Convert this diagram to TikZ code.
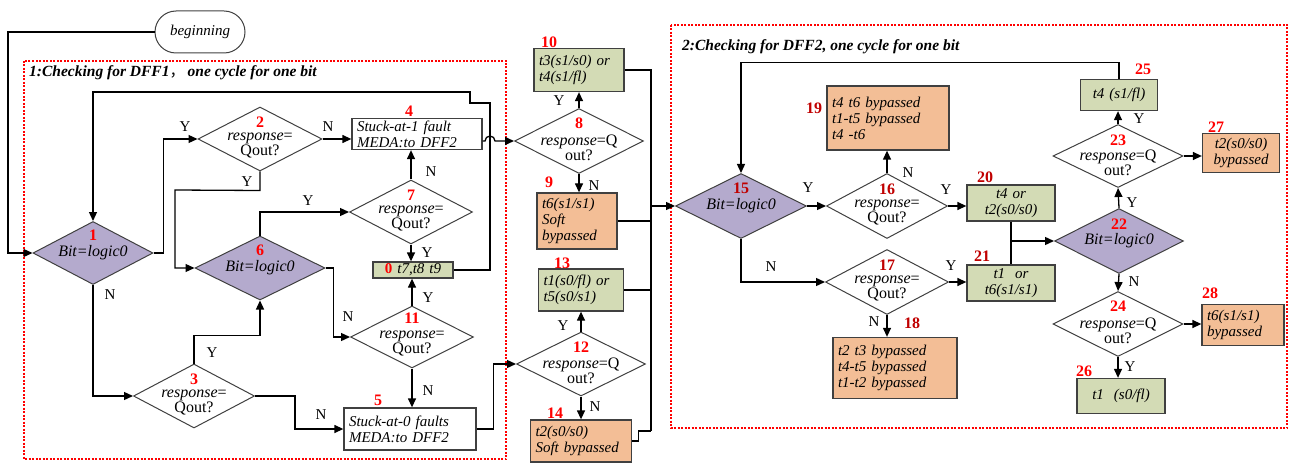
\documentclass[tikz,border=0pt]{standalone}
\usepackage{fontspec}
\setmainfont{Liberation Serif}
\newfontfamily\cjk{Noto Sans CJK SC}
\usetikzlibrary{shapes.geometric,arrows.meta}
\definecolor{lav}{HTML}{B4AACD}
\definecolor{grn}{HTML}{D3DBB5}
\definecolor{org}{HTML}{F3BE96}
\definecolor{numred}{HTML}{FF0000}
\definecolor{numdark}{HTML}{C00000}
\definecolor{edge}{HTML}{404040}
\tikzset{
  conn/.style={line width=1.3pt, black},
  arr/.style={conn, -{Triangle[length=9pt,width=8pt]}},
  dia/.style={diamond, draw=edge, line width=1pt, inner sep=0pt},
  dtxt/.style={font=\fontsize{16}{15}\selectfont, align=center, inner sep=0pt},
  numf/.style={font=\fontsize{16}{16}\selectfont\bfseries, text=numred, inner sep=0pt},
  numd/.style={numf, text=numdark},
  box/.style={rectangle, draw=edge, line width=1.3pt, inner xsep=5pt, inner ysep=0pt,
              font=\fontsize{15}{16}\selectfont\itshape},
  yn/.style={font=\fontsize{15}{15}\selectfont, inner sep=0pt},
  frame/.style={draw=red, line width=1.2pt, dash pattern=on 2pt off 1.5pt},
  term/.style={rectangle, rounded corners=21pt, draw=edge, line width=1pt,
               minimum width=90pt, minimum height=42pt, font=\fontsize{15}{15}\selectfont\itshape},
  ttl/.style={anchor=west, inner sep=0pt, font=\fontsize{15.5}{16}\selectfont\bfseries\itshape}
}
\begin{document}
\begin{tikzpicture}[x=1pt,y=-1pt]
\useasboundingbox (0,0) rectangle (1289,465);
% frames
\draw[frame] (24,61) rectangle (506,459);
\draw[frame] (671,25) rectangle (1287,428);
\node[ttl] (t1) at (29,73) {1:Checking for DFF1{\cjk\mdseries ，}\,one cycle for one bit};
\node[ttl] (t2) at (682,47) {2:Checking for DFF2, one cycle for one bit};
% start
\node[term] (beg) at (200,32) {beginning};
% ---------- diamonds ----------
\node[dia, fill=lav, minimum width=120pt, minimum height=63pt] (d1) at (93,253) {};
\node[numf, yshift=18pt] (d1n) at (d1) {1};
\node[dtxt] (d1t) at (d1) {\textit{Bit=logic0}};

\node[dia, fill=white, minimum width=124pt, minimum height=64pt] (d2) at (260,139) {};
\node[numf, yshift=17pt] (d2n) at (d2) {2};
\node[dtxt, yshift=-7pt] (d2t) at (d2) {\textit{response}=\\Qout?};

\node[dia, fill=white, minimum width=121pt, minimum height=64pt] (d3) at (194,396) {};
\node[numf, yshift=17pt] (d3n) at (d3) {3};
\node[dtxt, yshift=-7pt] (d3t) at (d3) {\textit{response}=\\Qout?};

\node[dia, fill=lav, minimum width=130pt, minimum height=64pt] (d6) at (260,268) {};
\node[numf, yshift=18pt] (d6n) at (d6) {6};
\node[dtxt] (d6t) at (d6) {\textit{Bit=logic0}};

\node[dia, fill=white, minimum width=123pt, minimum height=64pt] (d7) at (411,212) {};
\node[numf, yshift=17pt] (d7n) at (d7) {7};
\node[dtxt, yshift=-7pt] (d7t) at (d7) {\textit{response}=\\Qout?};

\node[dia, fill=white, minimum width=123pt, minimum height=62pt] (d11) at (412,337) {};
\node[numf, yshift=19pt] (d11n) at (d11) {11};
\node[dtxt, yshift=-7pt] (d11t) at (d11) {\textit{response}=\\Qout?};

\node[dia, fill=white, minimum width=129pt, minimum height=65pt] (d8) at (579,141) {};
\node[numf, yshift=18pt] (d8n) at (d8) {8};
\node[dtxt, yshift=-7pt] (d8t) at (d8) {\textit{response}=Q\\out?};

\node[dia, fill=white, minimum width=129pt, minimum height=64pt] (d12) at (581,364) {};
\node[numf, yshift=17pt] (d12n) at (d12) {12};
\node[dtxt, yshift=-7pt] (d12t) at (d12) {\textit{response}=Q\\out?};

\node[dia, fill=lav, minimum width=131pt, minimum height=65pt] (d15) at (741,206) {};
\node[numd, yshift=18pt] (d15n) at (d15) {15};
\node[dtxt] (d15t) at (d15) {\textit{Bit=logic0}};

\node[dia, fill=white, minimum width=121pt, minimum height=65pt] (d16) at (887,206) {};
\node[numd, yshift=17pt] (d16n) at (d16) {16};
\node[dtxt, yshift=-7pt] (d16t) at (d16) {\textit{response}=\\Qout?};

\node[dia, fill=white, minimum width=123pt, minimum height=65pt] (d17) at (887,282) {};
\node[numd, yshift=17pt] (d17n) at (d17) {17};
\node[dtxt, yshift=-7pt] (d17t) at (d17) {\textit{response}=\\Qout?};

\node[dia, fill=lav, minimum width=129pt, minimum height=65pt] (d22) at (1119,241) {};
\node[numf, yshift=17pt] (d22n) at (d22) {22};
\node[dtxt] (d22t) at (d22) {\textit{Bit=logic0}};

\node[dia, fill=white, minimum width=130pt, minimum height=63pt] (d23) at (1118,156) {};
\node[numf, yshift=16pt] (d23n) at (d23) {23};
\node[dtxt, yshift=-7pt] (d23t) at (d23) {\textit{response}=Q\\out?};

\node[dia, fill=white, minimum width=130pt, minimum height=65pt] (d24) at (1118,324) {};
\node[numf, yshift=18pt] (d24n) at (d24) {24};
\node[dtxt, yshift=-7pt] (d24t) at (d24) {\textit{response}=Q\\out?};

% ---------- boxes ----------
\node[box, fill=white, text width=120pt, minimum height=31pt, align=left] (b4) at (417,134) {Stuck-at-1 fault\\MEDA:to DFF2};
\node[numf] (b4n) at (409,111) {4};
\node[box, fill=white, text width=122pt, minimum height=42pt, align=left] (b5) at (410,429) {Stuck-at-0 faults\\MEDA:to DFF2};
\node[numf] (b5n) at (378,400) {5};
\node[box, fill=grn, text width=70pt, minimum height=16pt, align=center] (b0) at (413,270) {{\upshape\bfseries\color{numred}0} t7,t8 t9};
\node[box, fill=grn, text width=80pt, minimum height=43pt, align=left] (b10) at (579,70) {t3(s1/s0) or\\t4(s1/fl)};
\node[numf] (b10n) at (549,42) {10};
\node[box, fill=org, text width=70pt, minimum height=56pt, align=left] (b9) at (577,221) {t6(s1/s1)\\Soft\\bypassed};
\node[numf] (b9n) at (549,182) {9};
\node[box, fill=grn, text width=75pt, minimum height=42pt, align=left] (b13) at (581,290) {t1(s0/fl) or\\t5(s0/s1)};
\node[numf] (b13n) at (562,263) {13};
\node[box, fill=org, text width=91pt, minimum height=42pt, align=left] (b14) at (581,441) {t2(s0/s0)\\Soft bypassed};
\node[numf] (b14n) at (555,413) {14};
\node[box, fill=org, text width=112pt, minimum height=64pt, align=left] (b19) at (888,118) {t4 t6 bypassed\\t1-t5 bypassed\\t4 -t6};
\node[numd] (b19n) at (814,108) {19};
\node[box, fill=org, text width=114pt, minimum height=61pt, align=left] (b18) at (895,368) {t2 t3 bypassed\\t4-t5 bypassed\\t1-t2 bypassed};
\node[numd] (b18n) at (912,323) {18};
\node[box, fill=grn, text width=78pt, minimum height=36pt, align=center] (b20) at (1011,203) {t4 or\\t2(s0/s0)};
\node[numd] (b20n) at (985,177) {20};
\node[box, fill=grn, text width=78pt, minimum height=36pt, align=center] (b21) at (1011,283) {t1\ \ or\\t6(s1/s1)};
\node[numd] (b21n) at (982,256) {21};
\node[box, fill=grn, text width=67pt, minimum height=31pt, align=center] (b25) at (1119,95) {t4 (s1/fl)};
\node[numf] (b25n) at (1143,69) {25};
\node[box, fill=org, text width=67pt, minimum height=39pt, align=center] (b27) at (1241,153) {t2(s0/s0)\\bypassed};
\node[numf] (b27n) at (1216,127) {27};
\node[box, fill=org, text width=72pt, minimum height=41pt, align=left] (b28) at (1243,325) {t6(s1/s1)\\bypassed};
\node[numf] (b28n) at (1210,293) {28};
\node[box, fill=grn, text width=78pt, minimum height=35pt, align=center] (b26) at (1121,396) {t1\ \ (s0/fl)};
\node[numf] (b26n) at (1084,371) {26};

% ---------- connectors: DFF1 ----------
\coordinate (c0) at (8,32);
\draw[arr] (beg.west) -- (c0) |- (d1.west);
\draw[arr] (d1.east) -- ++(10,0) |- (d2.west);
\node[yn] (y1) at (185,127) {Y};
\draw[arr] (d2.east) -- (d2.east -| b4.west);
\node[yn] (n2) at (328,127) {N};
\draw[arr] (d2.south) -- ++(0,19) -- (175,190) |- (d6.west);
\node[yn] (y2) at (247,182) {Y};
\draw[arr] (d6.north) |- (d7.west);
\node[yn] (y6) at (308,201) {Y};
\draw[arr] (d1.south) |- (d3.west);
\node[yn] (n1) at (110,295) {N};
\draw[arr] (d3.north) -- ++(0,-28) -| (d6.south);
\node[yn] (y3) at (212,353) {Y};
\draw[arr] (d3.east) -- ++(40,0) |- (b5.west);
\node[yn] (n3) at (321,415) {N};
\draw[arr] (d7.north) -- (d7.north |- b4.south);
\node[yn] (n7) at (431,172) {N};
\draw[arr] (d7.south) -- (d7.south |- b0.north);
\node[yn] (y7) at (427,253) {Y};
\draw[arr] (d6.east) -- ++(8,0) |- (d11.west);
\node[yn] (n6) at (348,317) {N};
\draw[arr] (d11.north) -- (d11.north |- b0.south);
\node[yn] (y11) at (428,298) {Y};
\draw[arr] (d11.south) -- (d11.south |- b5.north);
\node[yn] (n11) at (428,391) {N};
\draw[arr] (b0.east) -- (490,270) -- (490,103) -- (470,103) -- (470,92) -| (d1.north);
\draw[arr] (b4.east |- d8.west) -- (485,141) arc[start angle=180, end angle=360, radius=5] -- (d8.west);
\draw[arr] (b5.east) -- ++(17,0) |- (d12.west);
% middle column
\draw[arr] (d8.north) -- (d8.north |- b10.south);
\node[yn] (y8) at (559,101) {Y};
\draw[arr] (d8.south) -- (d8.south |- b9.north);
\node[yn] (n8) at (594,186) {N};
\draw[arr] (d12.north) -- (d12.north |- b13.south);
\node[yn] (y12) at (563,326) {Y};
\draw[arr] (d12.south) -- (d12.south |- b14.north);
\node[yn] (n12) at (595,407) {N};
\coordinate (bus) at (651,206);
\coordinate (busb) at (651,431);
\draw[conn] (b10.east) -| (busb);
\draw[conn] (b9.east) -- (b9.east -| bus);
\draw[conn] (b13.east) -- (b13.east -| bus);
\draw[conn] (b14.east) -- ++(6,0) |- (busb);
\draw[arr] (bus) -- (d15.west);
% ---------- DFF2 ----------
\draw[arr] (b25.north) -- ++(0,-16) -| (d15.north);
\draw[arr] (d15.east) -- (d16.west);
\node[yn] (y15) at (808,188) {Y};
\draw[arr] (d16.north) -- (d16.north |- b19.south);
\node[yn] (n16) at (908,173) {N};
\draw[arr] (d16.east) -- (d16.east -| b20.west);
\node[yn] (y16) at (946,190) {Y};
\draw[arr] (d15.south) |- (d17.west);
\node[yn] (n15) at (771,267) {N};
\draw[arr] (d17.east) -- (d17.east -| b21.west);
\node[yn] (y17) at (951,266) {Y};
\draw[arr] (d17.south) -- (d17.south |- b18.north);
\node[yn] (n17) at (874,322) {N};
\draw[conn] (b20.south) -- (b21.north);
\draw[arr] (b20.south |- d22.west) -- (d22.west);
\draw[arr] (d22.north) -- (d23.south);
\node[yn] (y22) at (1132,203) {Y};
\draw[arr] (d23.north) -- (d23.north |- b25.south);
\node[yn] (y23) at (1139,119) {Y};
\draw[arr] (d23.east) -- (d23.east -| b27.west);
\draw[arr] (d22.south) -- (d24.north);
\node[yn] (n22) at (1134,282) {N};
\draw[arr] (d24.east) -- (d24.east -| b28.west);
\draw[arr] (d24.south) -- (d24.south |- b26.north);
\node[yn] (y24) at (1130,367) {Y};
\end{tikzpicture}
\end{document}
